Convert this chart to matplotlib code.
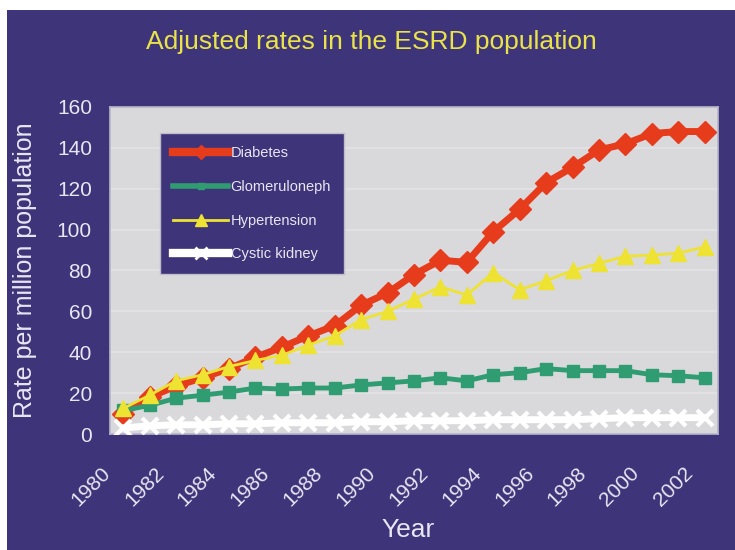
import numpy as np
import matplotlib
matplotlib.use("Agg")
import matplotlib.pyplot as plt
import matplotlib.transforms as mtransforms
from matplotlib.patches import Rectangle
from matplotlib.lines import Line2D

# data
years = np.arange(1980, 2003)
diabetes = [10, 18, 23.5, 27.5, 32, 37.5, 42.5, 48, 53, 63, 69, 78, 85, 84,
            99, 110, 123, 130.5, 139, 142, 147, 148, 148]
glomerulo = [11.5, 14, 17.5, 19, 20.5, 22.5, 22, 22.5, 22.5, 24, 25, 26, 27.5,
             26, 29, 30, 32, 31, 31, 31, 29, 28.5, 27.5]
hypertension = [12.5, 19, 26, 29, 33, 36, 38.5, 43.5, 48, 56, 60, 66, 72, 68,
                79, 70.5, 75, 80, 83.5, 87, 87.5, 88.5, 91.5]
cystic = [3, 4, 4.5, 4.5, 5, 5, 5.5, 5.5, 5.5, 6, 6, 6.5, 6.5, 6.5, 7, 7, 7,
          7, 7.5, 8, 8, 8, 8]
labels = ["Diabetes", "Glomeruloneph", "Hypertension", "Cystic kidney"]
xticks = np.arange(1980, 2003, 2)
yticks = np.arange(0, 161, 20)

purple = "#3e3479"
txt = "#e8e6f2"
plt.rcParams["font.family"] = ["Liberation Sans", "DejaVu Sans"]

fig = plt.figure(figsize=(7.35, 5.5), dpi=100)
fig.patch.set_facecolor("white")
fig.patches.append(Rectangle((7 / 735, 0), 1, 1 - 10 / 550, transform=fig.transFigure,
                             facecolor=purple, edgecolor="none", zorder=-10))

ax = fig.add_axes([110 / 735, 1 - 434 / 550, 608 / 735, 327 / 550])
ax.set_facecolor("#d9d9dc")
for s in ax.spines.values():
    s.set_color("#b8b6c8")
    s.set_linewidth(1.2)

for y in yticks[1:-1]:
    ax.axhline(y, color="#e3e3e6", lw=1.2, zorder=0)

ax.plot(years, diabetes, color="#e63c1c", lw=5, marker="D", ms=11,
        mec="#e63c1c", label=labels[0], zorder=3)
ax.plot(years, glomerulo, color="#2f9c72", lw=3.5, marker="s", ms=8,
        label=labels[1], zorder=4)
ax.plot(years, hypertension, color="#eee232", lw=2, marker="^", ms=11,
        label=labels[2], zorder=5)
ax.plot(years, cystic, color="white", lw=5, marker="x", ms=11, mew=3,
        label=labels[3], zorder=6)

ax.set_xlim(1979.5, 2002.5)
ax.set_ylim(0, 160)
ax.set_xticks(xticks)
ax.set_xticklabels([str(x) for x in xticks], rotation=45, ha="right",
                   rotation_mode="anchor", color=txt, fontsize=15)
ax.set_yticks(yticks)
ax.set_yticklabels([str(y) for y in yticks], color=txt, fontsize=15)
ax.tick_params(axis="both", length=0)
ax.tick_params(axis="y", pad=13)
ax.tick_params(axis="x", pad=21)
# move the slanted year labels to the left, as in the original
shift = mtransforms.ScaledTranslation(-22 / 100, 0, fig.dpi_scale_trans)
for lab in ax.get_xticklabels():
    lab.set_transform(lab.get_transform() + shift)

ax.set_ylabel("Rate per million population", color=txt, fontsize=18, labelpad=14)
ax.set_xlabel("Year", color=txt, fontsize=19, va="center")
ax.xaxis.set_label_coords(0.49, (434 - 530) / 327)

fig.text(0.505, 1 - 42 / 550, "Adjusted rates in the ESRD population",
         color="#e9e34a", fontsize=19, ha="center", va="center")

handles = [
    Line2D([], [], color="#e63c1c", lw=6, marker="D", ms=7),
    Line2D([], [], color="#2f9c72", lw=4, marker="s", ms=5),
    Line2D([], [], color="#eee232", lw=2, marker="^", ms=9),
    Line2D([], [], color="white", lw=6, marker="x", ms=8, mew=2),
]
leg = ax.legend(handles, labels, loc="upper left", bbox_to_anchor=(0.082, 0.92),
                borderaxespad=0, frameon=True, fancybox=False, fontsize=10.5,
                labelspacing=1.35, handlelength=3.8, handletextpad=0.15,
                borderpad=0.9, markerscale=1)
leg.get_frame().set_facecolor(purple)
leg.get_frame().set_edgecolor("#bdbcc8")
leg.get_frame().set_alpha(1)
for t in leg.get_texts():
    t.set_color(txt)

fig.savefig("out.png", dpi=100, facecolor=fig.get_facecolor())
